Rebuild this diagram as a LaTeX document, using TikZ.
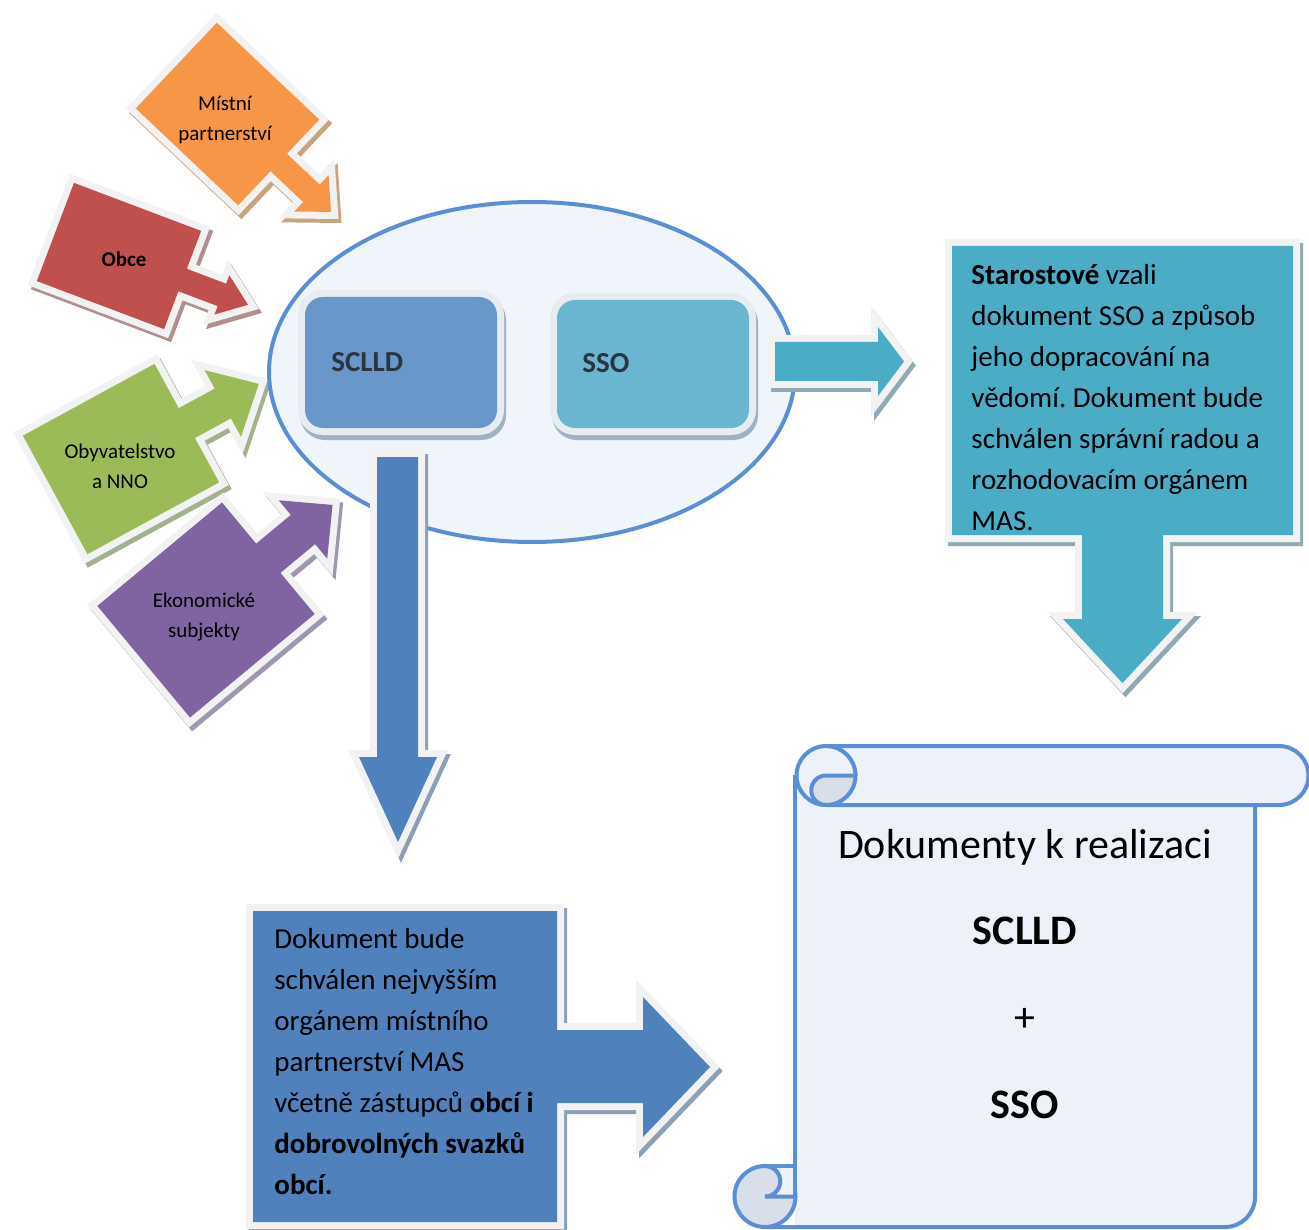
\documentclass[tikz,border=0pt]{standalone}
\usepackage{fontspec}
\setmainfont{Carlito}
\frenchspacing
\definecolor{framec}{HTML}{F2F2F2}
\definecolor{orangec}{HTML}{F79646}
\definecolor{orangesh}{HTML}{C9A27E}
\definecolor{redc}{HTML}{C0504D}
\definecolor{redsh}{HTML}{B0908F}
\definecolor{greenc}{HTML}{9BBB59}
\definecolor{greensh}{HTML}{A2B18E}
\definecolor{purplec}{HTML}{8064A2}
\definecolor{purplesh}{HTML}{9F97AF}
\definecolor{bluec}{HTML}{4F81BD}
\definecolor{bluesh}{HTML}{8B9FB6}
\definecolor{tealc}{HTML}{4BACC6}
\definecolor{tealsh}{HTML}{8FAAB3}
\definecolor{ellline}{HTML}{5A8ED6}
\definecolor{ellfill}{HTML}{F0F4FB}
\definecolor{boxframe}{HTML}{E7ECF1}
\definecolor{boxshadow}{HTML}{9FB2C5}
\definecolor{scllc}{HTML}{6A97C9}
\definecolor{ssoc}{HTML}{6AB5D0}
\definecolor{boxtext}{HTML}{2B3440}
\definecolor{scrollfill}{HTML}{EDF2FA}
\definecolor{scrolldark}{HTML}{D8DFE8}
% arrow callout pointing to +x, box centred at origin
% #1 box depth, #2 box height, #3 stem length, #4 stem half width, #5 head length, #6 head half width
\newcommand\acpath[6]{(-#1/2,-#2/2) -- (#1/2,-#2/2) -- (#1/2,-#4) -- ({#1/2+#3},-#4) -- ({#1/2+#3},-#6) -- ({#1/2+#3+#5},0) -- ({#1/2+#3},#6) -- ({#1/2+#3},#4) -- (#1/2,#4) -- (#1/2,#2/2) -- (-#1/2,#2/2) -- cycle}
% framed shape with shadow: #1 fill, #2 shadow, #3 transform, #4 path
\newcommand\fshape[4]{%
  \begin{scope}[shift={(3,4)}]\begin{scope}[#3]
    \path[draw=#2,fill=#2,line width=7pt] #4;
  \end{scope}\end{scope}
  \begin{scope}[#3]
    \path[draw=framec,line width=7pt] #4;
    \path[fill=#1] #4;
  \end{scope}}
\begin{document}
\begin{tikzpicture}[x=0.5pt,y=-0.5pt,line join=miter,
  lbl/.style={font=\fontsize{10.5}{15}\selectfont,align=center,inner sep=0},
  bodytext/.style={font=\fontsize{14.5}{20.5}\selectfont,align=left,anchor=north west,inner sep=0},
  boxlabel/.style={font=\fontsize{14.5}{17}\selectfont\bfseries,text=boxtext,anchor=west,inner sep=0},
  scrolltext/.style={font=\fontsize{21}{25}\selectfont,anchor=base,inner sep=0},
  scrollline/.style={draw=ellline,line width=2pt}]
\useasboundingbox (0,0) rectangle (1309,1229);

% ---- input callouts ----
\fshape{orangec}{orangesh}{shift={(227.5,114)},rotate=-43.4}{\acpath{141}{118}{45}{12}{27}{25}}
\fshape{redc}{redsh}{shift={(119,256)},rotate=-20.7}{\acpath{136}{105}{42}{12}{28}{21}}
\fshape{greenc}{greensh}{shift={(121,459)},rotate=28.6}{\acpath{150}{135}{41}{17}{41}{38}}
\fshape{purplec}{purplesh}{shift={(206,610)},rotate=39.7}{\acpath{162}{145}{45}{19}{38.5}{38}}

\node[lbl] (mistni) at (225,120) {Místní\\partnerství};
\node[lbl,font=\fontsize{10.5}{15}\selectfont\bfseries] (obce) at (124,259) {Obce};
\node[lbl] (obyv) at (120,466) {Obyvatelstvo\\a NNO};
\node[lbl] (ekon) at (204,617) {Ekonomické\\subjekty};

% ---- ellipse ----
\path[draw=ellline,line width=2pt,fill=ellfill] (532,372) ellipse [x radius=263,y radius=170];

% ---- SCLLD / SSO boxes ----
\path[draw=boxshadow,fill=boxshadow,line width=7pt,rounded corners=9pt] (307,302) rectangle (499,433);
\path[draw=boxframe,fill=boxframe,line width=7pt,rounded corners=9pt] (305,297) rectangle (497,428);
\path[fill=scllc,rounded corners=9pt] (305,297) rectangle (497,428);
\path[draw=boxshadow,fill=boxshadow,line width=7pt,rounded corners=9pt] (559,305) rectangle (751,433);
\path[draw=boxframe,fill=boxframe,line width=7pt,rounded corners=9pt] (557,300) rectangle (749,428);
\path[fill=ssoc,rounded corners=9pt] (557,300) rectangle (749,428);
\node[boxlabel] (sclldbox) at (331,362) {SCLLD};
\node[boxlabel] (ssobox) at (582,363) {SSO};

% ---- arrows ----
\fshape{tealc}{tealsh}{}{(775,342) -- (878,342) -- (878,327) -- (904,361.5) -- (878,396) -- (878,381) -- (775,381) -- cycle}
\fshape{bluec}{bluesh}{}{(377,457) -- (418,457) -- (418,757) -- (437,757) -- (398,842) -- (359,757) -- (377,757) -- cycle}

% ---- teal callout ----
\fshape{tealc}{tealsh}{}{(952,246) -- (1293,246) -- (1293,535) -- (1163,535) -- (1163,619) -- (1182,619) -- (1122.5,683) -- (1063,619) -- (1082,619) -- (1082,535) -- (952,535) -- cycle}
\node[bodytext] (staro) at (971,255.3) {\strut\textbf{Starostové} vzali\\dokument SSO a způsob\\jeho dopracování na\\vědomí. Dokument bude\\schválen správní radou a\\rozhodovacím orgánem\\MAS.};

% ---- blue callout ----
\fshape{bluec}{bluesh}{}{(253,911) -- (557,911) -- (557,1030) -- (643,1030) -- (643,997) -- (710,1067) -- (643,1137) -- (643,1103) -- (557,1103) -- (557,1222) -- (253,1222) -- cycle}
\node[bodytext] (dok) at (274,919.3) {\strut Dokument bude\\schválen nejvyšším\\orgánem místního\\partnerství MAS\\včetně zástupců \textbf{obcí i}\\\textbf{dobrovolných svazků}\\\textbf{obcí.}};

% ---- scroll ----
\path[fill=scrollfill] (795,775) -- (795,1227) -- (1225,1227) arc[start angle=90,end angle=0,radius=30] -- (1255,775) -- cycle;
\path[scrollline] (765,1227) -- (1225,1227) arc[start angle=90,end angle=0,radius=30] -- (1255,805);
% top roll
\path[scrollline,fill=scrollfill] (826,746) -- (1279,746) arc[start angle=-90,end angle=90,radius=29.5] -- (826,805) arc[start angle=90,end angle=270,radius=29.5] -- cycle;
\path[scrollline,fill=scrolldark] (826,775.5) -- (855.5,775.5) arc[start angle=0,end angle=90,radius=29.5] arc[start angle=90,end angle=270,radius=14.75] -- cycle;
\path[scrollline] (826,746) arc[start angle=-90,end angle=0,radius=29.5];
% bottom curl
\path[scrollline,fill=scrolldark] (765,1196.5) circle[radius=30.5];
\path[fill=scrollfill] (765,1166) -- (795,1166) -- (795,1196.5) -- (765,1196.5) arc[start angle=90,end angle=-90,radius=15.25] -- cycle;
\path[scrollline] (765,1166) -- (795,1166);
\path[scrollline] (795,1196.5) -- (765,1196.5) arc[start angle=90,end angle=-90,radius=15.25];
\path[scrollline] (795,775) -- (795,1197);

\node[scrolltext] (dkr) at (1025,858) {Dokumenty k realizaci};
\node[scrolltext,font=\fontsize{21}{25}\selectfont\bfseries] (s1) at (1025,944) {SCLLD};
\node[scrolltext] (plus) at (1025,1031) {+};
\node[scrolltext,font=\fontsize{21}{25}\selectfont\bfseries] (s2) at (1025,1118) {SSO};
\end{tikzpicture}
\end{document}
